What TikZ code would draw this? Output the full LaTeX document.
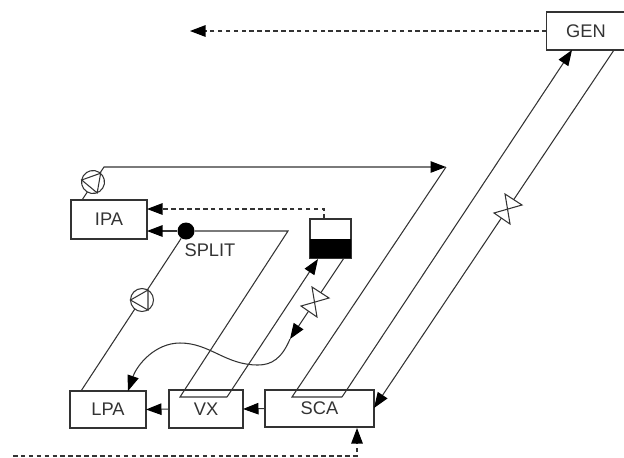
\documentclass[tikz,border=0pt]{standalone}
\usepackage{fontspec}
\setmainfont{Liberation Sans}
\usetikzlibrary{arrows.meta}
\definecolor{ink}{HTML}{333333}
\tikzset{
  unit/.style={draw=ink, line width=0.6pt, inner sep=0pt, outer sep=0pt, text=ink, font=\fontsize{10.4}{12}\selectfont},
  pipe/.style={draw=ink, line width=0.6pt},
  flow/.style={pipe, -{Triangle[length=0.31cm,width=0.23cm,color=black,fill=black]}},
  steam/.style={flow, dash pattern=on 2.6pt off 1.9pt},
  valve/.pic={\draw[pipe, fill=white] (-3,-15) -- (14,-4) -- (-14,4) -- (2,15) -- cycle;},
  pump/.pic={\draw[pipe, fill=white] (0,0) circle (0.23cm);
    \draw[pipe] (-11.5,0) -- (6,-10) -- (6,10) -- cycle;}
}
\begin{document}
\begin{tikzpicture}[x=0.02cm, y=-0.02cm]
\useasboundingbox (0,0) rectangle (624,457);
% Units
\node[unit, minimum width=1.58cm, minimum height=0.76cm] (gen) at (586,31) {GEN};
\node[unit, minimum width=1.52cm, minimum height=0.78cm] (ipa) at (109,219.5) {IPA};
\node[unit, minimum width=1.52cm, minimum height=0.74cm] (lpa) at (108,409.5) {LPA};
\node[unit, minimum width=1.48cm, minimum height=0.76cm] (vx) at (206,409) {VX};
\node[unit, minimum width=2.18cm, minimum height=0.74cm] (sca) at (319.5,408.5) {SCA};
\node[unit, minimum width=0.82cm, minimum height=0.78cm] (tank) at (330.5,238.5) {};
\fill[black] (tank.west) rectangle (tank.south east);
\node[circle, fill=black, inner sep=0pt, minimum size=0.34cm] (split) at (186,231) {};
\node[text=ink, font=\fontsize{10.4}{12}\selectfont, inner sep=0pt] (splitlabel) at (210,250) {SPLIT};
% Free ends and corners
\coordinate (steamout) at (190,31);
\coordinate (steamin) at (13,456);
\coordinate (scabelow) at (357,456);
\coordinate (scain) at (357,428);
\coordinate (hpend) at (446,167);
\coordinate (hpturn) at (104,167);
\coordinate (ipaout) at (82,200);
\coordinate (ipadash) at (147,209);
\coordinate (ipasolid) at (147,231);
\coordinate (tanktap) at (324,219);
\coordinate (tankin) at (318,259);
\coordinate (tankout) at (344,258);
\coordinate (drainend) at (290,339);
\coordinate (lpain) at (128,391);
\coordinate (lpaout) at (81,391);
\coordinate (splitturn) at (288,231);
\coordinate (vxleft) at (180,397);
\coordinate (vxright) at (227,397);
\coordinate (scaleft) at (292,397);
\coordinate (scaright) at (342,397);
\coordinate (genin) at (572,50);
\coordinate (genout) at (614,50);
\coordinate (scaside) at (374,408);
\coordinate (pumpA) at (93,182);
\coordinate (pumpB) at (142,300);
\coordinate (valveA) at (508,209);
\coordinate (valveB) at (315,302);
% Steam lines
\draw[steam] (gen.west |- 0,31) -- (steamout);
\draw[steam] (steamin) -- (scabelow) -- (scain);
\draw[steam] (tanktap) -- (324,209) -- (ipadash);
% Loops
\draw[flow] (ipaout) -- (hpturn) -- (hpend);
\draw[pipe] (hpend) -- (scaleft) -- (scaright);
\draw[flow] (scaright) -- (genin);
\draw[flow] (genout) -- (scaside);
\draw[flow] (split) -- (ipasolid);
\draw[pipe] (split) -- (splitturn) -- (vxleft) -- (vxright);
\draw[flow] (vxright) -- (tankin);
\draw[flow] (tankout) -- (drainend);
\draw[flow] (drainend) .. controls (282,358) and (272,365) .. (258,365)
  .. controls (225,365) and (210,343) .. (180,343)
  .. controls (155,343) and (137,365) .. (lpain);
\draw[pipe] (split) -- (lpaout);
\draw[flow] (vx.west) -- (lpa.east);
\draw[flow] (sca.west) -- (vx.east);
% Pumps and valves
\pic[rotate=-10] at (pumpA) {pump};
\pic at (pumpB) {pump};
\pic at (valveA) {valve};
\pic at (valveB) {valve};
\end{tikzpicture}
\end{document}
